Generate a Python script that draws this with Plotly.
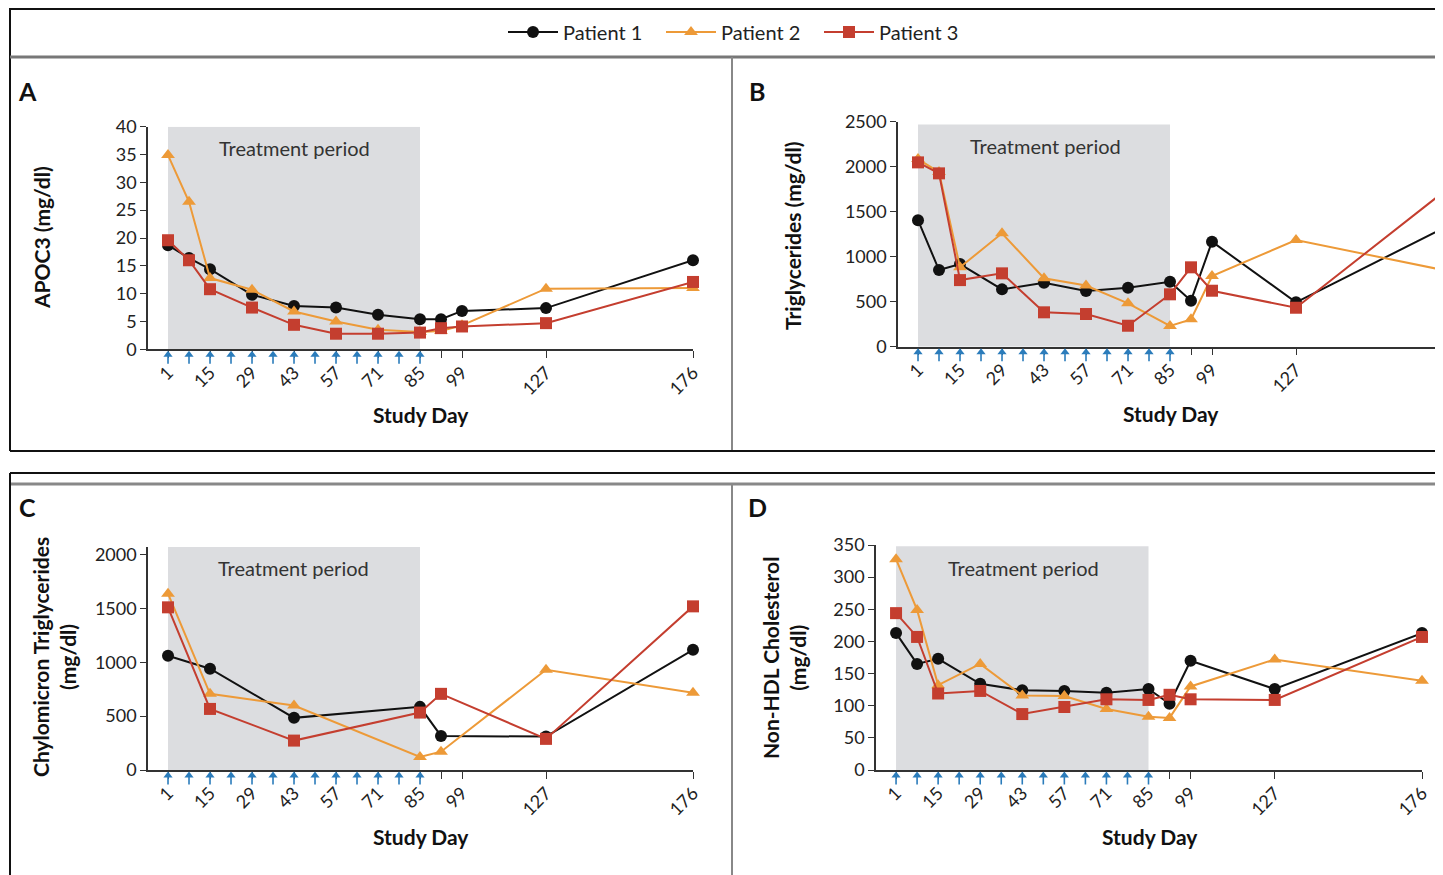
import plotly.graph_objects as go

OFF = 8  # page body margin of the browser
W, H = 1443 - OFF, 875 - OFF

# ---------------- data ----------------
days_full = [1, 8, 15, 29, 43, 57, 71, 85, 92, 99, 127, 176]
days_c = [1, 15, 43, 85, 92, 127, 176]
dose_days = [1, 8, 15, 22, 29, 36, 43, 50, 57, 64, 71, 78, 85]

tick_vals = [1, 15, 29, 43, 57, 71, 85, 92, 99, 127, 176]
tick_text = ["1", "15", "29", "43", "57", "71", "85", "", "99", "127", "176"]

# Panel A: APOC3 (mg/dl)
apoc3_p1 = [18.7, 16.4, 14.4, 9.8, 7.8, 7.5, 6.2, 5.4, 5.4, 6.9, 7.4, 16.0]
apoc3_p2 = [34.9, 26.5, 12.8, 10.7, 6.8, 5.0, 3.5, 3.1, 3.3, 4.3, 10.9, 11.0]
apoc3_p3 = [19.6, 16.0, 10.8, 7.5, 4.4, 2.8, 2.8, 3.0, 3.8, 4.1, 4.7, 12.1]

# Panel B: Triglycerides (mg/dl)
tg_p1 = [1406, 852, 918, 637, 711, 619, 656, 722, 511, 1167, 493, 1315]
tg_p2 = [2085, 1940, 882, 1260, 760, 680, 482, 230, 304, 786, 1185, 852]
tg_p3 = [2048, 1926, 740, 815, 382, 363, 233, 582, 882, 622, 433, 1715]

# Panel C: Chylomicron triglycerides (mg/dl)
chylo_p1 = [1060, 940, 484, 586, 316, 310, 1116]
chylo_p2 = [1637, 707, 598, 121, 170, 930, 716]
chylo_p3 = [1510, 567, 273, 533, 707, 289, 1519]

# Panel D: Non-HDL cholesterol (mg/dl)
nhdl_p1 = [213, 165, 173, 134, 124, 123, 120, 126, 103, 170, 126, 213]
nhdl_p2 = [328, 249, 132, 165, 116, 115, 95, 83, 81, 130, 172, 139]
nhdl_p3 = [244, 207, 119, 123, 87, 98, 110, 109, 117, 110, 109, 207]

patients = ["Patient 1", "Patient 2", "Patient 3"]
colors = ["#111111", "#ED9A38", "#C43E2F"]
symbols = ["circle", "triangle-up", "square"]
ARROW = "#2B7CBB"

# ---------------- helpers (reference pixel -> paper) ----------------
def px_x(x):
    return (x - OFF) / W

def px_y(y):
    return 1 - (y - OFF) / H

FONT = "Lato"
TICKFONT = dict(family=FONT, size=18, color="#222")

fig = go.Figure()

panels = [
    # axis suffix, days, series, y range, y ticks, shade top, x dom px, y dom px
    ("", days_full, [apoc3_p1, apoc3_p2, apoc3_p3], [0, 40], list(range(0, 41, 5)), 40,
     (148, 693), (126.7, 349.3)),
    ("2", days_full, [tg_p1, tg_p2, tg_p3], [0, 2500], list(range(0, 2501, 500)), 2470,
     (898, 1443), (121.7, 346.7)),
    ("3", days_c, [chylo_p1, chylo_p2, chylo_p3], [0, 2070], list(range(0, 2001, 500)), 2070,
     (148, 693), (547, 770)),
    ("4", days_full, [nhdl_p1, nhdl_p2, nhdl_p3], [0, 350], list(range(0, 351, 50)), 348,
     (876, 1422), (545, 770)),
]

XRANGE = [-5.67, 176]
shapes = []
for k, (sfx, days, series, yr, yt, shade_top, xd, yd) in enumerate(panels):
    xa, ya = "x" + sfx, "y" + sfx
    n = k + 5
    xs, ys = "x%d" % n, "y%d" % n
    shapes.append(dict(type="rect", xref=xa, yref=ya, x0=1, x1=85, y0=0, y1=shade_top,
                       fillcolor="#DCDDE0", line=dict(width=0), layer="below"))
    for i in range(3):
        fig.add_trace(go.Scatter(
            x=days, y=series[i], mode="lines+markers", name=patients[i],
            xaxis=xa, yaxis=ya, showlegend=(k == 0), cliponaxis=False,
            line=dict(color=colors[i], width=2),
            marker=dict(symbol=symbols[i], size=12, color=colors[i]),
            legendgroup=patients[i]))
    # dosing arrows in a thin strip just below the x axis
    fig.add_trace(go.Scatter(
        x=dose_days, y=[-0.55] * len(dose_days), mode="markers",
        xaxis=xs, yaxis=ys, showlegend=False, hoverinfo="skip", cliponaxis=False,
        marker=dict(symbol="line-ns", size=6, line=dict(color=ARROW, width=1.6))))
    fig.add_trace(go.Scatter(
        x=dose_days, y=[0.25] * len(dose_days), mode="markers",
        xaxis=xs, yaxis=ys, showlegend=False, hoverinfo="skip", cliponaxis=False,
        marker=dict(symbol="triangle-up", size=8, color=ARROW)))

    y0px = yd[1]
    fig.update_layout(**{
        "xaxis" + sfx: dict(
            domain=[px_x(xd[0]), min(1.0, px_x(xd[1]))], range=XRANGE, anchor=ya,
            tickvals=tick_vals, ticktext=tick_text, tickangle=-45,
            ticks="outside", ticklen=7, tickcolor="#333", tickwidth=1.3,
            showline=True, linecolor="#333", linewidth=1.5,
            showgrid=False, zeroline=False, tickfont=TICKFONT,
            ticklabelstandoff=-3, automargin=False, fixedrange=True),
        "yaxis" + sfx: dict(
            domain=[px_y(yd[1]), px_y(yd[0])], range=yr, anchor=xa,
            tickvals=yt, ticks="outside", ticklen=6, tickcolor="#333", tickwidth=1.3,
            showline=True, linecolor="#333", linewidth=1.5,
            showgrid=False, zeroline=False, tickfont=TICKFONT,
            automargin=False, fixedrange=True),
        "xaxis%d" % n: dict(
            domain=[px_x(xd[0]), min(1.0, px_x(xd[1]))], range=XRANGE, anchor=ys,
            visible=False, fixedrange=True),
        "yaxis%d" % n: dict(
            domain=[px_y(y0px + 13), px_y(y0px + 1)], range=[-1, 1], anchor=xs,
            visible=False, fixedrange=True),
    })

def hline(y, x0, x1, color, width):
    return dict(type="line", xref="paper", yref="paper", x0=px_x(x0), x1=px_x(x1),
                y0=px_y(y), y1=px_y(y), line=dict(color=color, width=width), layer="above")

def vline(x, y0, y1, color, width):
    return dict(type="line", xref="paper", yref="paper", x0=px_x(x), x1=px_x(x),
                y0=px_y(y0), y1=px_y(y1), line=dict(color=color, width=width), layer="above")

shapes += [
    hline(9, 10, 1460, "#111", 2),
    vline(10, 8, 451, "#111", 2),
    hline(57, 10, 1460, "#777", 3),
    vline(732, 57, 451, "#888", 2),
    hline(451, 10, 1460, "#111", 2),
    hline(473, 10, 1460, "#111", 2),
    hline(484, 10, 1460, "#888", 3),
    vline(10, 473, 900, "#111", 2),
    vline(732, 484, 900, "#888", 2),
]

annotations = []

def ann(text, x, y, size, bold=False, angle=0, color="#111"):
    annotations.append(dict(
        text=("<b>%s</b>" % text) if bold else text, x=px_x(x), y=px_y(y),
        xref="paper", yref="paper", showarrow=False, textangle=angle,
        xanchor="center", yanchor="middle",
        font=dict(family=FONT, size=size, color=color)))

ann("A", 27, 91, 25, bold=True)
ann("B", 757, 91, 25, bold=True)
ann("C", 27, 507, 25, bold=True)
ann("D", 757, 507, 25, bold=True)

ann("Treatment period", 294, 148, 20, color="#333")
ann("Treatment period", 1045, 146, 20, color="#333")
ann("Treatment period", 293, 568, 20, color="#333")
ann("Treatment period", 1023, 568, 20, color="#333")

ann("Study Day", 421, 415, 21, bold=True)
ann("Study Day", 1171, 413, 21, bold=True)
ann("Study Day", 421, 836, 21, bold=True)
ann("Study Day", 1150, 836, 21, bold=True)

ann("APOC3 (mg/dl)", 42, 238, 21, bold=True, angle=-90)
ann("Triglycerides (mg/dl)", 793, 235, 21, bold=True, angle=-90)
ann("Chylomicron Triglycerides<br>(mg/dl)", 54, 657, 21, bold=True, angle=-90)
ann("Non-HDL Cholesterol<br>(mg/dl)", 784, 658, 21, bold=True, angle=-90)

fig.update_layout(
    width=W, height=H, margin=dict(l=0, r=0, t=0, b=0),
    paper_bgcolor="white", plot_bgcolor="white",
    shapes=shapes, annotations=annotations,
    legend=dict(orientation="h", x=px_x(503), xanchor="left", y=px_y(32), yanchor="middle",
                font=dict(family=FONT, size=20, color="#222"), bgcolor="rgba(0,0,0,0)",
                itemwidth=50, entrywidth=93, entrywidthmode="pixels", tracegroupgap=0),
    showlegend=True,
)

fig.write_html("out.html")
